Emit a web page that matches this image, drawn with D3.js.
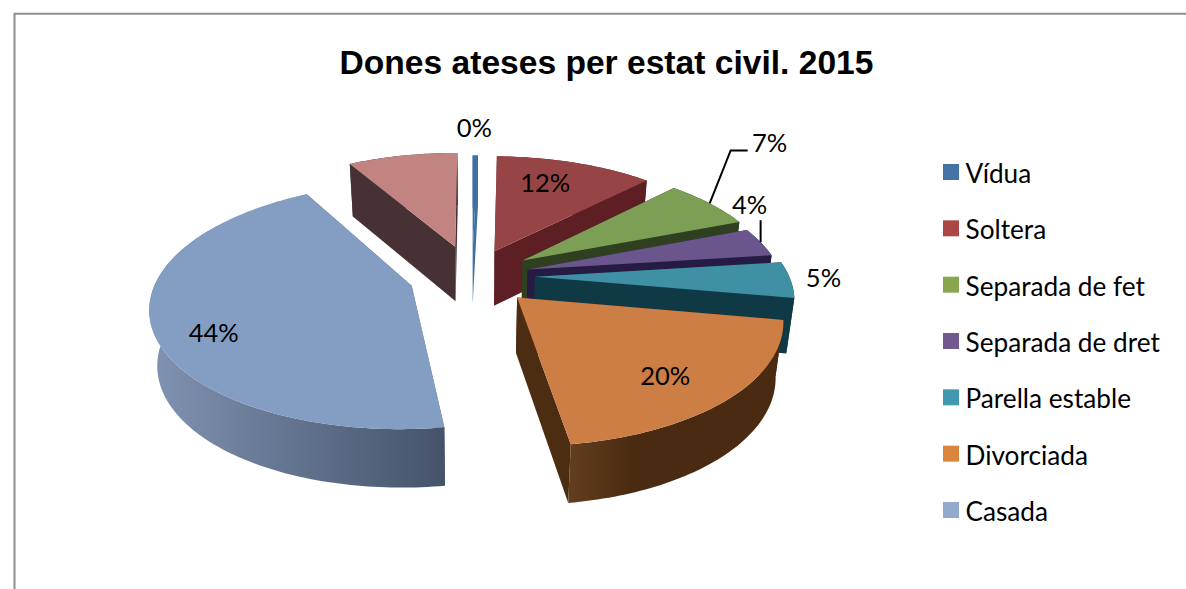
<!DOCTYPE html>
<html><head><meta charset="utf-8">
<script src="https://cdn.jsdelivr.net/npm/d3@7"></script>
<style>html,body{margin:0;padding:0;background:#fff}svg{display:block}</style>
</head><body><svg id="c" width="1186" height="589"></svg>
<script>
const chartTitle = "Dones ateses per estat civil. 2015";
const categories = ["Vídua","Soltera","Separada de fet","Separada de dret","Parella estable","Divorciada","Casada",""];
const values = [0.4,11.9,6.8,3.9,4.8,19.9,44.0,8.3];
const legendColors = ["#4572a7","#aa4643","#89a54e","#71588f","#4198af","#db843d","#93a9ce"];
const topColors = ["#3f70a0","#964445","#7d9f55","#6a558d","#3f90a5","#cc7e45","#849dc2","#c18481"];
const sideColors = ["#3f70a0","#5e1f24","#2f4020","#261b42","#0f3a45","#4d2d12","#5a6c88","#483135"];
const wallLeft = ["#3f70a0","#5e1f24","#2f4020","#261b42","#0f3a45","#633e1f","#8093b2","#483135"];
const wallRight = ["#3f70a0","#5e1f24","#2f4020","#261b42","#0f3a45","#4a2b11","#44536a","#483135"];
const explosion = [58,60,62,58,63,63,63,68];
const labelOffsets = [[-1,-27],[-30,20],[60,-60],[-11,-37],[33,-2],[-64,-23],[62,6],null];

const W=1186,H=589,cx=472,cy=276,R=254,tilt=0.462,D=1600,thick=55,bottomShrink=0.975;
const svg=d3.select("#c");
const FONT="Lato, Carlito, sans-serif";
svg.append("path").attr("d",d3.line()([[14.5,H],[14.5,13.7],[W,13.7]])).attr("fill","none").attr("stroke","#8a8f8e").attr("stroke-width",2);
svg.append("text").attr("x",606.5).attr("y",74).attr("text-anchor","middle").attr("font-family","Liberation Sans").attr("font-weight","bold").attr("font-size",33.6).attr("fill","#000").text(chartTitle);

const slices=d3.pie().sort(null).value(d=>d)(values);
const mid=i=>(slices[i].startAngle+slices[i].endAngle)/2;
function project(i,theta,rad,bottom){
  const m=mid(i),e=explosion[i];
  const X=e*Math.sin(m)+rad*Math.sin(theta),Z=e*Math.cos(m)+rad*Math.cos(theta);
  const s=D/(D+Z);
  if(!bottom) return [cx+X*s,cy-Z*tilt*s];
  return [cx+X*s*bottomShrink,cy-Z*tilt*s+thick*(1+(s-1)*0.3)];
}
const line=d3.line();
const defs=svg.append("defs");
const order=d3.range(values.length).sort((a,b)=>Math.cos(mid(b))-Math.cos(mid(a)));
function arcAngles(a,b){const n=Math.max(4,Math.ceil((b-a)/0.02));return d3.range(n+1).map(j=>a+(b-a)*j/n);}
order.forEach(i=>{
  const a=slices[i].startAngle,b=slices[i].endAngle,g=svg.append("g");
  const lg=defs.append("linearGradient").attr("id","w"+i);
  lg.append("stop").attr("offset",0).attr("stop-color",wallLeft[i]);
  lg.append("stop").attr("offset",i===5?0.3:1).attr("stop-color",wallRight[i]);
  [a,b].forEach(t=>{
    g.append("path").attr("fill",sideColors[i]).attr("d",line([project(i,0,0,false),project(i,t,R,false),project(i,t,R,true),project(i,0,0,true)])+"Z");
  });
  const as=arcAngles(a,b);
  const wallAs=(i===6?as.filter(t=>t<5.3):as);
  g.append("path").attr("fill",`url(#w${i})`).attr("d",line(wallAs.map(t=>project(i,t,R,false)).concat(wallAs.slice().reverse().map(t=>project(i,t,R,true))))+"Z");
  g.append("path").attr("fill",topColors[i]).attr("d",line([project(i,0,0,false)].concat(as.map(t=>project(i,t,R,false))))+"Z");
});

// leader lines
[[2,[21,-53,17]],[3,[0,-22,0]]].forEach(([i,o])=>{
  const p=project(i,mid(i),R,false);
  const pts=i===2?[p,[p[0]+o[0],p[1]+o[1]],[p[0]+o[0]+o[2],p[1]+o[1]]]:[p,[p[0],p[1]+o[1]]];
  svg.append("path").attr("d",line(pts)).attr("fill","none").attr("stroke","#000").attr("stroke-width",2);
});
// data labels
const fmt=v=>Math.round(v)+"%";
values.forEach((v,i)=>{
  if(!labelOffsets[i]) return;
  const p=project(i,mid(i),R,false);
  svg.append("text").attr("x",p[0]+labelOffsets[i][0]).attr("y",p[1]+labelOffsets[i][1]).attr("dy","0.35em").attr("text-anchor","middle").attr("font-family",FONT).attr("font-size",25.5).attr("fill","#000").text(fmt(v));
});

// legend
const legendNames=categories.filter(c=>c);
const ly=d3.scalePoint().domain(legendNames).range([172,510]);
const lg=svg.selectAll("g.leg").data(legendNames).join("g").attr("class","leg").attr("transform",d=>`translate(943,${ly(d)})`);
lg.append("rect").attr("y",-8).attr("width",16).attr("height",16).attr("fill",(d,i)=>legendColors[i]);
lg.append("text").attr("x",22.5).attr("y",1.5).attr("dy","0.36em").attr("font-family",FONT).attr("font-size",26.2).attr("fill","#000").text(d=>d);
</script></body></html>
